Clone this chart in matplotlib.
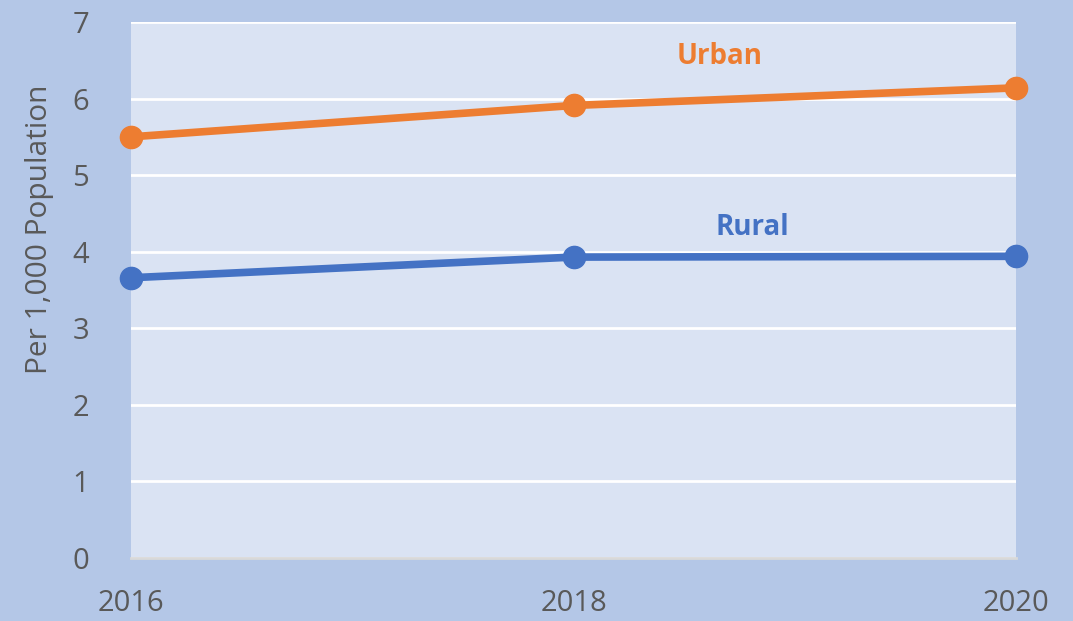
import matplotlib
matplotlib.use("Agg")
import matplotlib.pyplot as plt

years = [2016, 2018, 2020]
urban = [5.50, 5.91, 6.14]
rural = [3.66, 3.93, 3.94]
yticks = [0, 1, 2, 3, 4, 5, 6, 7]

plt.rcParams['font.family'] = ['Open Sans', 'DejaVu Sans']

fig = plt.figure(figsize=(10.73, 6.21), dpi=100, facecolor='#B4C7E7')
ax = fig.add_axes([0.122, 0.1014, 0.825, 0.8632])
ax.set_facecolor('#DAE3F3')

ax.plot(years, urban, color='#ED7D31', lw=5.5, marker='o', ms=16, clip_on=False, zorder=3)
ax.plot(years, rural, color='#4472C4', lw=5.5, marker='o', ms=16, clip_on=False, zorder=3)

ax.text(2018.66, 6.55, 'Urban', color='#ED7D31', fontsize=20, fontweight='bold', ha='center', va='center')
ax.text(2018.81, 4.31, 'Rural', color='#4472C4', fontsize=20, fontweight='bold', ha='center', va='center')

ax.set_xlim(2016, 2020)
ax.set_ylim(0, 7)
ax.set_xticks(years)
ax.set_yticks(yticks)
ax.grid(axis='y', color='white', lw=2)
ax.set_axisbelow(True)
for s in ['top', 'right', 'left']:
    ax.spines[s].set_visible(False)
ax.spines['bottom'].set_color('#D9D9D9')
ax.spines['bottom'].set_linewidth(2)
ax.tick_params(length=0, labelsize=21, colors='#595959')
ax.tick_params(axis='x', pad=22)
ax.tick_params(axis='y', pad=30)
ax.set_ylabel('Per 1,000 Population', fontsize=21.5, color='#595959')
ax.yaxis.set_label_coords(-0.087, 0.614)

fig.savefig('out.png', dpi=100, facecolor=fig.get_facecolor())
